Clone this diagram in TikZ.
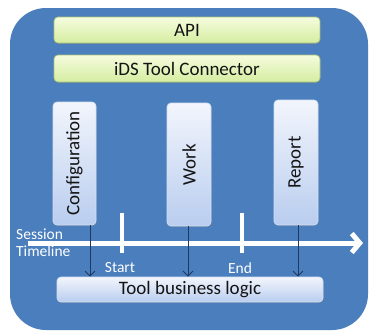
\documentclass[tikz,border=0pt]{standalone}
\usepackage{fontspec}
\setmainfont{Carlito}
\usepackage{graphicx}
\usetikzlibrary{arrows.meta,shadows}

\definecolor{panelblue}{HTML}{4B7EBC}
\definecolor{greentop}{HTML}{F5FCDE}
\definecolor{greenbot}{HTML}{D5EDA0}
\definecolor{greenedge}{HTML}{A9C277}
\definecolor{bluetop}{HTML}{F2F5FC}
\definecolor{bluebot}{HTML}{B9CDEF}
\definecolor{blueedge}{HTML}{D3DFF4}
\definecolor{navy}{HTML}{1F3763}
\definecolor{ink}{HTML}{141414}

\tikzset{
  layer/.style={draw=greenedge, line width=0.7pt, rounded corners=4pt,
    top color=greentop, bottom color=greenbot, text=ink,
    font=\fontsize{19}{21}\selectfont, inner sep=0pt,
    drop shadow={opacity=0.35, shadow xshift=0.6pt, shadow yshift=-1.2pt}},
  phase/.style={draw=blueedge, line width=0.7pt, rounded corners=4pt,
    top color=bluetop, bottom color=bluebot, text=ink,
    font=\fontsize{19}{21}\selectfont, inner sep=0pt,
    drop shadow={opacity=0.35, shadow xshift=0.6pt, shadow yshift=-1.2pt}},
  tag/.style={text=white, font=\fontsize{15.5}{16}\selectfont, inner sep=0pt},
  flow/.style={draw=navy, line width=0.9pt, -{Straight Barb[length=5pt,width=10pt]}},
  tick/.style={draw=white, line width=4pt},
}

\begin{document}
\begin{tikzpicture}[x=1pt, y=-1pt]
  % canvas
  \fill[white] (0,0) rectangle (371,333);
  \useasboundingbox (0,0) rectangle (371,333);

  % outer panel
  \fill[panelblue, rounded corners=36pt] (10,8) rectangle (368,330);

  % stacked layers
  \node[layer, minimum width=266pt, minimum height=26pt] (api) at (187,30) {API};
  \node[layer, minimum width=266pt, minimum height=27pt] (ids) at (187,68.5) {iDS Tool Connector};

  % session phases
  \node[phase, minimum width=43pt, minimum height=123pt] (cfg) at (74.5,163.5)
    {\rotatebox{90}{Configuration}};
  \node[phase, minimum width=44pt, minimum height=123pt] (work) at (189,164.5)
    {\rotatebox{90}{Work}};
  \node[phase, minimum width=44pt, minimum height=125pt] (rep) at (296,162.5)
    {\rotatebox{90}{Report}};

  % business logic layer
  \node[phase, minimum width=266pt, minimum height=25pt] (logic) at (190,289.5)
    {Tool business logic};

  % session timeline
  \coordinate (tl0) at (28,243);
  \coordinate (tl1) at (363,243);
  \draw[draw=white, line width=5pt, -{Straight Barb[length=8pt,width=19pt]}] (tl0) -- (tl1);

  \coordinate (s0) at (122,213);
  \coordinate (s1) at (122,253);
  \coordinate (e0) at (242,213);
  \coordinate (e1) at (242,253);
  \draw[tick] (s0) -- (s1);
  \draw[tick] (e0) -- (e1);

  \node[tag, anchor=west] (sess) at (16,234) {Session};
  \node[tag, anchor=west] (tline) at (16,251) {Timeline};
  \node[tag] (start) at (120,268) {Start};
  \node[tag] (end) at (240,268) {End};

  % calls into the business logic
  \draw[flow] ([xshift=15.5pt]cfg.south) -- ([xshift=15.5pt]cfg.south |- logic.north);
  \draw[flow] ([xshift=-1pt]work.south) -- ([xshift=-1pt]work.south |- logic.north);
  \draw[flow] ([xshift=2pt]rep.south) -- ([xshift=2pt]rep.south |- logic.north);
\end{tikzpicture}
\end{document}
